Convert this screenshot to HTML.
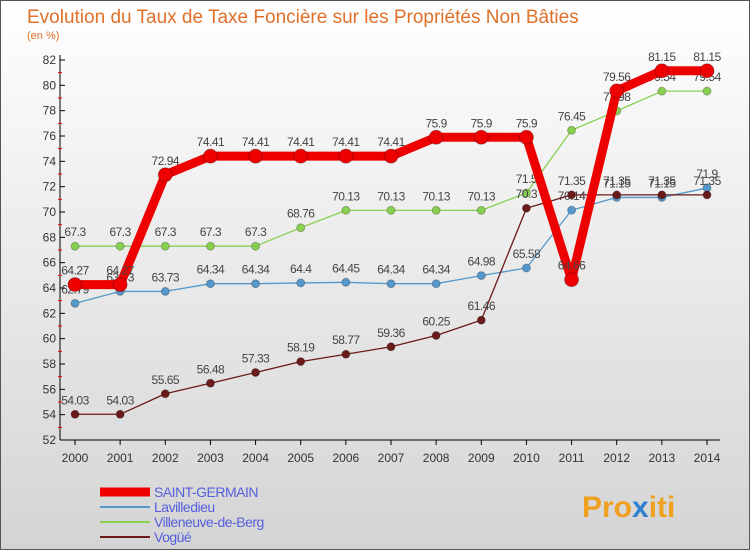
<!DOCTYPE html>
<html><head><meta charset="utf-8"><style>
body{margin:0;}
#wrap{width:750px;height:550px;position:relative;overflow:hidden;font-family:"Liberation Sans",sans-serif;}
</style></head><body>
<div id="wrap">
<svg id="chart" width="750" height="550" xmlns="http://www.w3.org/2000/svg">
<defs><linearGradient id="bg" x1="0" y1="0" x2="0" y2="1"><stop offset="0" stop-color="#ffffff"/><stop offset="1" stop-color="#d4d4d4"/></linearGradient></defs>
<rect x="0.5" y="0.5" width="749" height="549" fill="url(#bg)" stroke="#555"/>
<text x="27" y="23" font-size="19" fill="#e0702a">Evolution du Taux de Taxe Foncière sur les Propriétés Non Bâties</text>
<text x="27" y="39" font-size="11" fill="#e0702a">(en %)</text>
<g id="axes"></g><g id="series"></g><g id="legend"></g>
<text x="582" y="517" font-size="30" font-weight="bold" fill="#f0a020">Pro<tspan fill="#3080d0">x</tspan>iti</text>
</svg></div>
<script>
const years=[2000,2001,2002,2003,2004,2005,2006,2007,2008,2009,2010,2011,2012,2013,2014];
const yTicks=[52,54,56,58,60,62,64,66,68,70,72,74,76,78,80,82];
const saint=[64.27,64.27,72.94,74.41,74.41,74.41,74.41,74.41,75.9,75.9,75.9,64.66,79.56,81.15,81.15];
const lavil=[62.79,63.73,63.73,64.34,64.34,64.4,64.45,64.34,64.34,64.98,65.58,70.14,71.15,71.15,71.9];
const ville=[67.3,67.3,67.3,67.3,67.3,68.76,70.13,70.13,70.13,70.13,71.5,76.45,77.98,79.54,79.54];
const vogue=[54.03,54.03,55.65,56.48,57.33,58.19,58.77,59.36,60.25,61.46,70.3,71.35,71.35,71.35,71.35];
const names=["SAINT-GERMAIN","Lavilledieu","Villeneuve-de-Berg","Vogüé"];
const NS="http://www.w3.org/2000/svg";
const X=i=>75+i*(707-75)/(years.length-1);
const Y=v=>440-(v-52)*(380/30);
function mk(t,a,p){const e=document.createElementNS(NS,t);for(const k in a)e.setAttribute(k,a[k]);p.appendChild(e);return e;}
const ax=document.getElementById('axes');
const yl=mk('line',{x1:60,y1:55,x2:60,y2:440,stroke:'#000'},ax);


const xl=mk('line',{x1:60,y1:440,x2:720,y2:440,stroke:'#000'},ax);


yTicks.forEach(v=>{
 mk('line',{x1:60,y1:Y(v),x2:65,y2:Y(v),stroke:'#000'},ax);
 if(v<82)mk('line',{x1:58,y1:Y(v+1),x2:62,y2:Y(v+1),stroke:'#e00'},ax);
 const t=mk('text',{x:56,y:Y(v)+4,'font-size':12,'text-anchor':'end',fill:'#333'},ax);t.textContent=v;
 
 
});
years.forEach((y,i)=>{
 mk('line',{x1:X(i),y1:440,x2:X(i),y2:445,stroke:'#000'},ax);
 const t=mk('text',{x:X(i),y:462,'font-size':12,'text-anchor':'middle',fill:'#333'},ax);t.textContent=y;
 
 
});
const sg=document.getElementById('series');
function draw(data,color,w,r,name){
 const g=mk('g',{},sg);
 
 
 mk('polyline',{points:data.map((v,i)=>X(i)+','+Y(v)).join(' '),fill:'none',stroke:color,'stroke-width':w,'stroke-linejoin':'round'},g);
 data.forEach((v,i)=>{
  const c=mk('circle',{cx:X(i),cy:Y(v),r:r,fill:color,stroke:'rgba(0,0,0,0.25)'},g);
  
  
  const t=mk('text',{x:X(i),y:Y(v)-10,'font-size':12,'text-anchor':'middle',fill:'#444','letter-spacing':'-0.5'},g);t.textContent=String(v).replace('.',',').replace(',','.');
 });
}
draw(ville,'#88d050',1.3,4,'series-villeneuve');
draw(lavil,'#5599cc',1.3,4,'series-lavilledieu');
draw(vogue,'#6b1a1a',1.3,4,'series-vogue');
draw(saint,'#ee0000',9,7,'series-saint-germain');
const lg=document.getElementById('legend');
const lc=['#ee0000','#5599cc','#88d050','#6b1a1a'],lw=[9,2,2,2];
names.forEach((n,i)=>{
 const y=492+i*15;
 const g=mk('g',{},lg);
 
 
 mk('line',{x1:100,y1:y,x2:150,y2:y,stroke:lc[i],'stroke-width':lw[i]},g);
 const t=mk('text',{x:154,y:y+5,'font-size':14,fill:'#5560dd','letter-spacing':'-0.5'},g);t.textContent=n;
});
</script>
</body></html>
